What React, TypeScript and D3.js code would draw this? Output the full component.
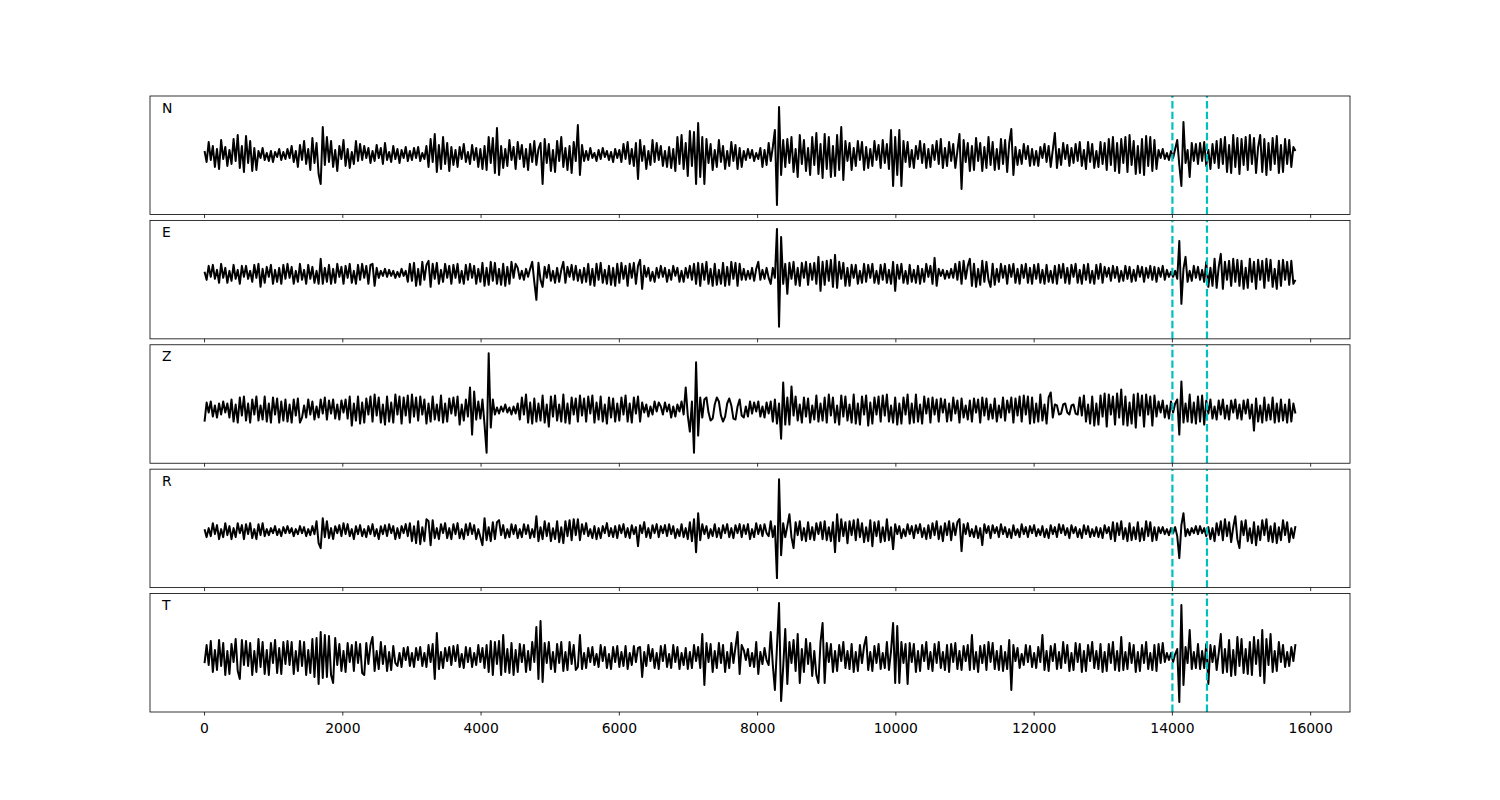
import React from 'react';
import * as d3 from 'd3';

// sampling interval of the traces (x units between consecutive samples)
const SAMPLE_STEP = 30;
const CHANNELS = ['N', 'E', 'Z', 'R', 'T'];
const X_TICKS = [0, 2000, 4000, 6000, 8000, 10000, 12000, 14000, 16000];
const PICKS = [14000, 14500];
// y-axis limits of each panel (amplitude units)
const Y_LIMITS: [number, number][] = [[-59.5, 59], [-65, 53.5], [-53.5, 64.5], [-56.5, 62], [-55, 63.5]];

const N_TRACE = [
  4,-7,13,-5,9,-12,6,-14,15,-4,8,-11,5,-9,16,-6,20,-13,9,-17,
  19,-8,14,-16,7,-15,4,-3,7,-5,2,-6,4,-7,3,-2,6,-5,3,-4,
  6,-3,9,-7,4,-12,10,-5,14,-9,6,-15,17,-8,12,-19,-29,28,-10,18,
  -7,14,-12,5,-16,9,-4,15,-11,6,-13,3,-9,14,-6,11,-5,9,-3,7,
  -8,4,-6,10,-3,7,-9,12,-5,3,-7,9,-4,6,-8,5,-3,8,-6,4,
  -5,7,-3,8,-6,2,-4,9,-12,16,-7,21,-17,10,-14,18,-9,12,-16,8,
  -10,5,-12,8,-4,11,-7,3,-9,10,-5,7,-12,6,-14,9,-15,18,-8,17,
  -18,27,-20,9,-13,6,-11,15,-5,8,-14,13,-4,10,-12,6,-15,11,-7,14,
  -10,6,12,-29,16,-8,11,-16,5,-17,14,-6,18,-12,7,-15,9,-18,13,-6,
  30,-20,10,-6,4,-5,7,-3,2,-6,5,-4,7,-2,4,-5,3,-7,6,-3,
  5,-7,11,-4,13,-9,6,-11,12,-24,15,-6,9,-14,4,-10,15,-7,12,-5,
  9,-11,4,-12,8,-13,6,-16,18,-9,20,-14,12,-21,24,-11,23,-29,32,-22,
  18,-29,16,-8,11,-15,5,-12,15,-7,9,-14,4,-11,13,-6,10,-14,7,-12,
  4,-5,6,-3,5,-6,2,-4,7,-12,5,-10,12,-6,8,25,-50,48,-20,15,
  -12,16,-8,18,-17,6,-22,20,-9,15,-16,7,-20,18,-10,22,-19,11,-23,21,
  -14,18,-22,9,-21,20,-15,28,-25,14,-6,12,-15,7,-11,14,-5,13,-15,8,
  -13,6,-11,14,-5,10,-13,15,-8,11,-14,25,-31,18,-20,25,-31,14,-7,13,
  -12,5,-13,9,-4,14,-8,11,-13,6,-12,10,-5,14,-9,16,-13,7,-11,13,
  -6,11,-13,4,21,-34,15,-7,12,-16,9,-15,17,-6,12,-16,8,-13,18,-10,
  13,-15,6,-14,16,-9,15,-17,12,26,-20,8,-10,5,-9,11,-4,9,-11,6,
  -10,4,-11,8,-3,11,-7,9,-12,5,22,-13,6,-10,12,-4,10,-11,7,-8,
  11,-6,13,-11,5,-14,13,-7,11,-13,4,-12,13,-9,12,-15,16,-10,18,-16,
  12,-18,16,-8,18,-17,20,-10,14,-19,9,-18,16,-20,19,-11,18,-16,15,-14,
  5,-3,6,-4,2,-5,4,-3,6,15,-10,-31,33,-8,5,-22,12,-6,11,-9,
  12,-6,13,-11,5,-14,11,-8,14,-13,16,-9,18,-17,10,-18,20,-12,17,-19,
  16,-10,18,-15,20,-9,17,-18,8,20,-17,16,-20,12,-15,17,-9,19,-18,10,
  -17,16,-9,15,-12,8,4,
];

const E_TRACE = [
  2,-6,8,-3,9,-5,4,-9,10,-4,6,-9,3,-7,9,-5,4,-10,8,-3,
  8,-5,3,-8,9,-4,10,-13,5,-9,7,-3,9,-10,4,-8,6,-10,9,-5,
  10,-4,7,-10,3,-8,10,-6,4,-10,9,-5,7,-9,3,-10,15,-10,6,-8,
  9,-10,5,-9,10,-3,7,-10,8,-4,10,-9,3,-10,9,-6,10,-4,8,-10,
  9,10,-12,6,-4,3,-2,5,-3,4,-2,3,-4,2,-3,5,-2,3,-8,10,
  -7,11,-12,5,-11,12,-6,9,13,-13,10,-5,11,-10,4,-8,10,-4,8,-10,
  9,-4,10,-9,3,-10,9,-6,10,-4,8,-10,5,-8,11,-12,6,-11,12,-7,
  11,-10,5,-11,10,-12,7,-10,12,-4,10,6,-5,3,-6,5,-3,5,12,-8,
  -26,11,-6,-13,7,-4,9,-7,3,-9,6,-8,4,12,-9,7,-3,9,-6,8,
  -7,4,-9,6,-8,10,-11,5,-12,10,-6,11,-9,4,-10,8,-11,6,-12,10,
  -9,11,-5,8,-12,10,-4,11,-10,8,14,-15,8,-3,6,-7,2,-8,6,-4,
  8,-3,6,-8,4,-6,8,-2,6,-8,3,-8,6,-4,8,-6,10,-10,11,-12,
  10,-6,12,-10,5,-12,10,-11,4,-10,11,-12,7,-11,12,-5,11,-12,10,-6,
  5,-6,3,-5,6,-7,5,12,-6,4,-5,6,-4,-10,6,-4,45,-53,37,-10,
  10,-20,11,-5,12,-11,6,-12,11,-4,12,-11,10,-6,11,-10,17,-17,12,-11,
  13,-7,14,-13,19,-14,12,-5,11,-12,6,-12,9,-4,9,-10,3,-9,10,-8,
  9,-4,10,-9,3,-10,9,-6,10,-9,4,-10,12,-17,9,-5,10,-9,3,-10,
  9,-8,4,-9,8,-10,5,-8,10,-3,8,-10,16,-12,5,-2,4,-5,3,-4,
  5,-4,10,-6,12,-10,13,-5,8,15,-12,10,-13,5,-11,13,-8,12,-6,-13,
  10,-11,5,-8,10,-4,8,-10,9,-3,10,-9,5,-10,9,-4,10,-9,6,-10,
  9,-5,10,-9,4,-10,9,-8,3,-9,8,-10,9,-4,10,-9,6,-10,9,-3,
  10,-9,4,-10,9,-6,10,-9,3,-10,9,-5,10,-9,7,-3,6,-7,8,-4,
  7,-8,3,-7,8,-5,7,-8,4,-7,8,-3,7,-8,6,-4,8,-6,7,-8,
  6,-3,8,-6,4,-3,2,-3,3,-5,33,-30,5,17,-8,3,-7,8,-4,7,
  -6,4,-8,12,-13,6,-12,15,-14,7,20,-15,12,-6,13,-12,15,-8,14,-12,
  13,-15,6,-14,15,-8,12,-15,14,-6,13,-14,15,-7,14,-13,5,-15,13,-12,
  14,-6,12,-11,13,-10,-6,
];

const Z_TRACE = [
  -12,7,-3,8,-7,4,-8,6,-5,8,-3,6,-8,10,-12,5,-13,12,-6,13,
  -11,6,-13,10,-5,13,-11,4,-10,13,-12,6,-13,12,-5,11,-13,8,-11,10,
  -12,5,-13,10,-6,11,-13,-8,4,-8,10,-5,8,-10,3,-8,10,-4,12,-10,
  9,-4,10,-9,5,-10,9,-3,10,-9,13,-16,6,-11,13,-14,7,-13,11,-5,
  13,-12,15,-6,12,-13,5,-15,13,-12,7,-13,15,-5,13,-14,12,-6,14,-13,
  15,-7,12,-11,13,-5,10,-14,6,-12,13,-10,5,-11,14,-13,6,-12,11,-4,
  12,-6,13,-15,5,-11,10,-7,22,-25,18,-10,8,-9,10,-15,-43,56,-18,10,
  -5,2,-4,3,-2,5,-3,2,-5,3,-4,6,-10,12,-5,15,-13,7,-14,11,
  -12,6,-11,14,-13,5,-17,13,-7,14,-11,5,-12,15,-13,6,-14,12,-5,11,
  -12,14,-6,11,-12,13,-4,14,-13,7,-10,13,-12,5,-14,12,-8,11,-12,6,
  -11,12,-5,14,-12,6,-13,12,-4,13,-12,7,-3,5,-7,3,-5,8,-2,7,
  3,-5,7,-2,5,-8,3,-7,5,-2,8,-5,22,-6,-22,8,-43,47,-26,12,
  -8,10,12,-3,-11,-9,5,12,8,-6,-12,-7,6,11,4,-9,-10,3,10,-6,
  -8,3,-7,8,-4,7,-2,8,-7,3,-8,7,-4,8,-12,10,-14,6,-29,27,
  -15,12,-15,23,-6,13,-11,5,-13,12,-7,11,-13,4,-10,14,-12,6,-11,12,
  -13,15,-6,12,-13,4,-15,14,-7,13,-11,5,-13,15,-14,6,-15,13,-5,14,
  -16,7,-14,12,-5,13,-12,14,-6,15,-12,4,-13,12,-15,6,-14,12,-5,15,
  -14,6,-13,15,-12,5,-14,13,-4,11,-13,12,-5,10,-12,11,-3,10,-12,6,
  -11,12,-4,9,-13,11,-8,4,-10,9,-12,11,-3,10,-13,12,-6,11,-10,5,
  -9,11,-12,4,-8,12,-11,9,-3,12,-13,11,-6,13,-12,14,-5,13,-14,12,
  -13,6,-12,15,-11,5,-14,12,17,-8,5,4,-5,-4,5,6,-3,-5,4,5,
  -4,-5,12,-6,14,-12,5,-14,13,-16,6,-15,14,-7,16,-17,15,-5,13,-15,
  16,-8,20,-15,13,-16,7,-14,15,-18,16,-6,14,-17,15,-5,13,-16,14,-7,
  8,-3,9,-8,4,-9,8,-3,6,10,-25,28,-13,6,-12,15,-13,7,-14,13,
  -12,14,-15,9,-4,10,-9,3,-10,9,-5,10,-9,4,-10,9,-3,10,-9,5,
  -10,9,-4,10,-9,5,-21,11,-12,4,-13,12,-11,5,-10,12,-13,6,-12,10,
  -11,5,-13,10,-12,6,-4,
];

const R_TRACE = [
  2,-6,3,-5,8,-3,6,-8,2,-6,8,-4,5,-8,3,-6,8,-2,6,-8,
  7,-3,8,-7,2,-8,7,-4,8,-5,2,-4,3,-2,5,-4,2,-5,4,-2,
  5,-2,3,-5,2,-3,5,-2,4,-5,2,-4,5,-3,10,-12,-17,13,-6,10,
  -7,3,-8,5,-2,6,-5,8,-3,7,-5,2,-8,5,-3,6,-5,2,-6,5,
  -3,7,-5,2,-8,5,-3,6,-5,7,-2,5,-8,3,-7,5,-2,7,-5,8,
  -10,5,-12,10,-13,4,-10,12,10,-14,11,-7,3,-8,7,-2,8,-7,3,-8,
  7,-3,8,-7,2,-8,7,-4,8,-3,6,-8,2,-6,-14,13,-9,4,-10,9,
  -8,9,11,-4,6,-7,2,-6,7,-3,6,-7,2,-6,7,-3,6,-7,2,-6,
  15,-10,4,-8,10,-5,8,-10,3,-8,10,-11,4,-12,10,-5,11,-9,12,-4,
  12,-9,7,-3,8,-5,2,-7,5,-8,3,-7,5,-2,8,-5,3,-6,5,-7,
  6,-2,7,-6,3,-7,6,-3,4,-15,6,-2,9,-6,3,-7,6,-2,7,-6,
  5,-2,6,-5,7,-3,5,-7,2,-5,7,-6,3,-8,9,-10,12,-21,18,-9,
  7,-3,5,-7,2,-5,7,-6,3,-7,6,-2,7,-6,3,-7,6,-2,7,-6,
  6,-3,7,-8,2,-6,8,-3,6,-5,7,-2,-5,10,-6,5,-47,52,-24,8,
  -6,5,17,-6,-17,9,-4,10,-9,3,-10,9,-8,4,-9,8,-3,9,-8,10,
  -9,4,-10,9,-21,17,-10,12,-5,9,-12,10,-4,11,-9,12,-6,8,-11,4,
  -10,11,-15,9,-5,10,-11,4,-10,12,-9,4,-18,7,-3,5,-7,2,-5,7,
  -3,5,-7,6,-2,7,-6,3,-8,6,-7,8,-4,10,-8,5,-10,8,-4,10,
  -9,8,-4,9,12,-20,7,-3,8,-5,2,-6,5,-7,3,-14,7,-2,5,-7,
  6,-2,4,-6,7,-3,4,-6,2,-7,6,-4,2,-6,7,-3,4,-6,5,-2,
  6,-5,2,-4,5,-6,2,-7,6,-3,4,-6,7,-2,6,-4,3,-7,6,-2,
  4,-6,2,-7,6,-3,5,-6,2,-5,4,-6,3,-7,6,-2,4,-8,9,-10,
  8,-4,10,-8,3,-10,8,-9,4,-8,9,-10,3,-9,10,-5,9,-10,4,-9,
  4,-2,4,-3,2,-4,3,-2,4,-5,-27,6,18,-5,2,-4,3,-2,5,-3,
  5,-2,3,-5,4,-8,3,-10,8,-4,10,-9,12,-5,9,-11,4,15,-8,-17,
  10,-4,11,-10,3,-12,9,-14,5,-9,11,-4,12,-10,5,-11,8,-12,4,-9,
  11,-4,9,-11,3,-7,5,
];

const T_TRACE = [
  -6,12,-8,16,-15,7,-13,17,-9,14,-18,6,-17,13,-5,18,-14,-22,17,-8,
  16,-9,14,-18,6,-15,18,-10,15,-17,7,-18,14,-6,17,-16,9,-17,15,-7,
  16,-8,15,-17,6,-14,16,-9,15,-18,7,-16,18,-20,19,-27,25,-21,22,-20,
  21,-18,-26,19,-8,13,-14,6,-15,14,-5,12,-14,15,-6,13,-16,-18,14,-7,
  12,20,-14,6,-12,15,-7,11,-14,5,-13,11,-6,-9,4,-10,9,-3,10,-9,
  4,-10,9,-3,10,-9,4,-10,12,-5,13,-22,24,-12,5,-11,9,-4,10,-8,
  11,-4,12,-10,3,-11,10,-5,9,-10,4,-8,12,-5,9,-11,12,-15,16,-18,
  15,-7,16,-18,22,-15,8,-16,14,-18,7,-15,13,-5,12,-15,6,-13,15,-5,
  30,-22,36,-25,14,-6,15,-12,5,-15,13,-6,15,-14,5,-13,15,-7,12,-13,
  -10,22,-12,4,-11,9,-5,10,-8,3,-10,12,-4,10,-11,3,-12,10,-5,11,
  -10,5,-9,11,-12,4,-8,11,-5,9,10,-20,5,-9,12,-4,8,-11,4,-12,
  11,-4,12,-10,3,-11,12,-5,10,-12,4,-8,9,-12,5,-11,12,-4,10,-11,
  23,-28,14,-5,13,-15,6,-11,14,-6,12,-15,5,-11,14,-6,10,25,-17,12,
  7,-3,8,-9,4,-10,15,-17,5,-7,9,-3,-8,25,-8,-33,10,54,-44,-10,
  28,-27,15,-6,17,-14,23,-26,8,-15,18,-7,14,-19,6,-18,-26,15,34,-26,
  14,-5,13,-15,6,-14,12,-4,15,-11,6,-12,13,-15,5,-14,12,-6,11,20,
  -13,5,-14,11,-6,13,-12,4,-11,15,-13,6,34,-26,31,-26,15,-6,13,-27,
  14,-5,13,-15,6,-14,12,-4,15,-12,5,-14,13,-6,15,-11,5,-13,12,-15,
  13,-5,14,-12,6,-13,11,-4,12,-13,22,-12,5,-15,11,-6,12,-13,15,-5,
  14,-12,6,-13,11,-14,5,-12,17,-33,12,-4,9,-11,3,-8,12,-5,11,-10,
  4,-11,10,-5,22,-13,6,-14,11,-4,13,-12,5,-11,15,-6,12,-14,4,-13,
  14,-5,13,-15,6,-14,12,-4,15,-11,6,-12,13,-15,5,-14,13,-6,15,-13,
  6,-14,20,-13,5,-12,14,-6,12,-15,5,-14,12,-6,15,-12,4,-13,12,-14,
  13,-6,14,-5,4,-3,4,-5,3,8,-45,52,-28,10,-6,27,-12,5,-11,13,
  -12,6,-11,13,-27,12,-5,11,-13,4,23,-16,8,-15,17,-19,7,-18,20,-9,
  18,-16,8,-17,15,-18,20,-7,17,-19,27,-26,18,-8,23,-15,6,-14,15,-5,
  12,-10,5,-9,10,-4,13,
];

const TRACES = [N_TRACE, E_TRACE, Z_TRACE, R_TRACE, T_TRACE];

export default function App() {
  const W = 1500;
  const H = 800;
  const left = 150;
  const right = 1350;
  const top = 96;
  const bottom = 712;
  const n = CHANNELS.length;
  const hspace = 0.05;
  const ph = (bottom - top) / (n + (n - 1) * hspace);
  const gap = ph * hspace;

  const maxLen = d3.max(TRACES, (t) => t.length) as number;
  const xMax = (maxLen - 1) * SAMPLE_STEP;
  const pad = 0.05 * xMax;
  const x = d3.scaleLinear().domain([0 - pad, xMax + pad]).range([left, right]);

  const font = '"DejaVu Sans", sans-serif';

  return (
    <svg width={W} height={H} style={{ position: 'absolute', left: 0, top: 0, background: '#fff' }}>
      <rect x={0} y={0} width={W} height={H} fill="#fff" />
      {CHANNELS.map((ch, i) => {
        const y0 = top + i * (ph + gap);
        const y1 = y0 + ph;
        const y = d3.scaleLinear().domain(Y_LIMITS[i]).range([y1, y0]);
        const line = d3
          .line<number>()
          .x((_, k) => x(k * SAMPLE_STEP))
          .y((v) => y(v))
          .curve(d3.curveLinear);
        const isLast = i === n - 1;
        return (
          <g key={ch}>
            <defs>
              <clipPath id={`clip-${i}`}>
                <rect x={left} y={y0} width={right - left} height={ph} />
              </clipPath>
            </defs>
            <g clipPath={`url(#clip-${i})`}>
              <path d={line(TRACES[i]) || ''} fill="none" stroke="#000" strokeWidth={2} strokeLinejoin="round" />
              {PICKS.map((p) => (
                <line
                  key={p}
                  x1={x(p)}
                  x2={x(p)}
                  y1={y1}
                  y2={y0}
                  stroke="#00bfbf"
                  strokeWidth={2.2}
                  strokeDasharray="7.4,3.2"
                />
              ))}
            </g>
            <rect x={left} y={y0} width={right - left} height={ph} fill="none" stroke="#000" strokeWidth={0.8} />
            {X_TICKS.map((t) => (
              <g key={t}>
                <line x1={x(t)} x2={x(t)} y1={y1} y2={y1 + 3.5} stroke="#000" strokeWidth={0.8} />
                {isLast && (
                  <text x={x(t)} y={y1 + 21} textAnchor="middle" fontFamily={font} fontSize={13.9} fill="#000">
                    {t}
                  </text>
                )}
              </g>
            ))}
            <text x={left + 12} y={y0 + 16.5} fontFamily={font} fontSize={13.9} fill="#000">
              {ch}
            </text>
          </g>
        );
      })}
    </svg>
  );
}
